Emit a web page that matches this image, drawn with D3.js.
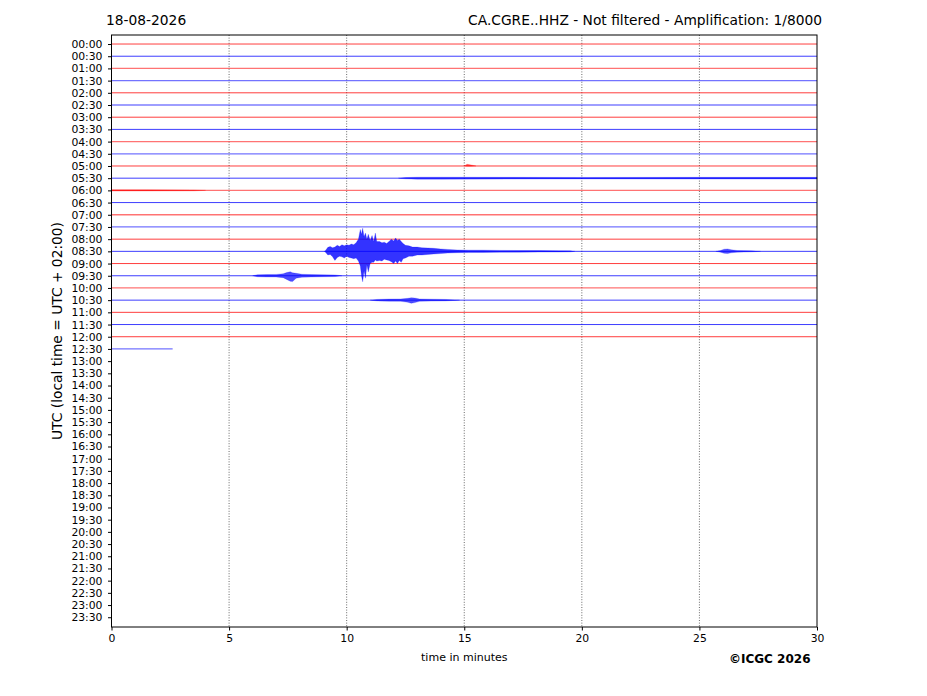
<!DOCTYPE html>
<html>
<head>
<meta charset="utf-8">
<script src="https://cdn.jsdelivr.net/npm/d3@7"></script>
<style>
  body { margin: 0; background: #fff; }
  text { font-family: "DejaVu Sans", sans-serif; }
</style>
</head>
<body>
<div id="chart"></div>
<script>
// row labels (UTC, every 30 minutes)
var rowLabels = ["00:00","00:30","01:00","01:30","02:00","02:30","03:00","03:30",
  "04:00","04:30","05:00","05:30","06:00","06:30","07:00","07:30",
  "08:00","08:30","09:00","09:30","10:00","10:30","11:00","11:30",
  "12:00","12:30","13:00","13:30","14:00","14:30","15:00","15:30",
  "16:00","16:30","17:00","17:30","18:00","18:30","19:00","19:30",
  "20:00","20:30","21:00","21:30","22:00","22:30","23:00","23:30"];
var xTicks = [0, 5, 10, 15, 20, 25, 30];

// minutes of signal recorded in each row (rows after 12:30 are empty)
var traceEnd = [30,30,30,30,30,30,30,30,30,30,30,30,30,30,30,30,
  30,30,30,30,30,30,30,30,30,2.6];
// background noise level per row (0 quiet, 1 noisy)
var noise = [0,0,1,1,0,0,0,0,1,1,0,0,1,0,1,1,0,0,0,0,1,0,0,0,0,1];

// envelopes: [minute, up, down] in trace spacing units
var ev0500 = [[15.0,0,0],[15.12,0.14,0.02],[15.3,0.08,0.02],[15.5,0,0]];
var ev0530 = [[12.2,0,0],[12.5,0.05,0.05],[13.0,0.08,0.08],[14.0,0.08,0.08],
  [17.0,0.07,0.07],[20.0,0.06,0.06],[25.0,0.07,0.07],[30,0.07,0.07]];
var ev0600 = [[0,0.06,0.06],[1.5,0.05,0.05],[3.5,0.04,0.04],[4.0,0,0]];
var ev0830 = [[9.05,0,0],[9.1,0.08,0.08],[9.2,0.33,0.3],[9.3,0.4,0.25],[9.4,0.3,0.45],
  [9.5,0.35,0.74],[9.6,0.5,0.5],[9.7,0.4,0.4],[9.8,0.55,0.45],[9.9,0.45,0.55],
  [10.0,0.55,0.4],[10.1,0.5,0.5],[10.2,0.6,0.55],[10.3,0.55,0.6],[10.4,0.7,0.55],
  [10.5,1.0,0.8],[10.58,1.8,1.2],[10.63,1.4,2.0],[10.68,1.9,2.5],[10.74,1.2,1.6],
  [10.8,1.5,2.2],[10.86,1.0,1.1],[10.92,1.4,1.7],[11.0,0.9,1.0],[11.08,1.3,0.9],
  [11.15,0.8,0.9],[11.22,1.5,0.7],[11.28,0.8,0.8],[11.4,0.8,0.75],[11.5,0.7,0.8],
  [11.6,0.75,0.65],[11.7,0.65,0.7],[11.8,0.8,0.75],[11.9,1.0,0.85],[12.0,0.85,1.0],
  [12.08,1.1,0.8],[12.16,0.9,1.0],[12.24,1.0,0.75],[12.32,0.8,0.9],[12.4,0.65,0.6],
  [12.5,0.5,0.55],[12.65,0.45,0.4],[12.8,0.35,0.4],[13.0,0.35,0.3],[13.2,0.3,0.3],
  [13.45,0.28,0.25],[13.7,0.25,0.22],[14.0,0.2,0.18],[14.3,0.16,0.14],[14.7,0.12,0.11],
  [15.2,0.1,0.1],[15.8,0.1,0.09],[16.5,0.08,0.08],[17.3,0.07,0.07],[18.2,0.07,0.06],
  [19.0,0.06,0.06],[19.5,0.04,0.04],[19.7,0,0]];
var ev0830b = [[25.7,0,0],[25.9,0.07,0.07],[26.05,0.18,0.16],[26.2,0.2,0.18],
  [26.35,0.13,0.12],[26.6,0.07,0.07],[27.2,0.04,0.04],[27.6,0,0]];
var ev0930 = [[6.0,0,0],[6.2,0.08,0.08],[6.6,0.1,0.1],[7.0,0.11,0.1],[7.3,0.16,0.16],
  [7.45,0.26,0.3],[7.6,0.33,0.45],[7.7,0.24,0.48],[7.85,0.2,0.2],[8.1,0.12,0.12],
  [8.5,0.1,0.1],[9.0,0.08,0.08],[9.5,0.07,0.07],[9.8,0,0]];
var ev1030 = [[11.0,0,0],[11.3,0.06,0.06],[11.8,0.09,0.09],[12.3,0.1,0.1],
  [12.6,0.15,0.17],[12.75,0.2,0.26],[12.9,0.17,0.2],[13.1,0.1,0.1],[13.6,0.08,0.08],
  [14.2,0.06,0.06],[14.8,0,0]];

var events = [
  {row: 10, pts: ev0500}, {row: 11, pts: ev0530}, {row: 12, pts: ev0600},
  {row: 17, pts: ev0830}, {row: 17, pts: ev0830b},
  {row: 19, pts: ev0930}, {row: 21, pts: ev1030}
];

var width = 927, height = 696;
var plotL = 111.5, plotR = 817, plotT = 35, plotB = 627;

var svg = d3.select('#chart').append('svg').attr('width', width).attr('height', height);

var x = d3.scaleLinear().domain([0, 30]).range([plotL, plotR]);
var y = d3.scaleLinear().domain([-0.74, 47.8]).range([plotT, plotB]);

function color(row) { return row % 2 == 0 ? '#ff0000' : '#0000ff'; }

// vertical dotted grid
svg.append('g').selectAll('line')
  .data(xTicks.filter(d => d > 0 && d < 30)).join('line')
    .attr('x1', d => x(d)).attr('x2', d => x(d))
    .attr('y1', plotT).attr('y2', plotB)
    .attr('stroke', '#444').attr('stroke-width', 0.8)
    .attr('stroke-dasharray', '1,1.6');

// baselines
svg.append('g').selectAll('line')
  .data(traceEnd).join('line')
    .attr('x1', x(0)).attr('x2', (d) => x(d))
    .attr('y1', (d, i) => y(i)).attr('y2', (d, i) => y(i))
    .attr('stroke', (d, i) => color(i))
    .attr('stroke-width', (d, i) => noise[i] ? 1.3 : 0.9)
    .attr('stroke-opacity', (d, i) => noise[i] ? 0.55 : 0.85);

// seismic envelopes
var area = d3.area()
  .x(d => x(d[0]))
  .y0(d => y(d.row + d[2]))
  .y1(d => y(d.row - d[1]));

function peak(ev) { return d3.max(ev.pts, p => Math.max(p[1], p[2])); }

svg.append('g').selectAll('path')
  .data(events).join('path')
    .attr('d', ev => area(ev.pts.map(p => { var q = p.slice(); q.row = ev.row; return q; })))
    .attr('fill', ev => color(ev.row))
    .attr('fill-opacity', ev => peak(ev) > 1 ? 0.8 : 0.7)
    .attr('stroke', ev => color(ev.row))
    .attr('stroke-width', 0.4)
    .attr('stroke-opacity', 0.5);

// axes
var yAxis = d3.axisLeft(y).tickValues(d3.range(48))
  .tickFormat(i => rowLabels[i]).tickSize(3.5).tickPadding(5.5);
var gy = svg.append('g').attr('transform', 'translate(' + plotL + ',0)').call(yAxis);
gy.select('.domain').remove();
gy.selectAll('text').attr('font-size', '10.8px').attr('font-family', 'DejaVu Sans').attr('fill', '#000');

var xAxis = d3.axisBottom(x).tickValues(xTicks).tickFormat(d3.format('d'))
  .tickSize(3.5).tickPadding(3.5);
var gx = svg.append('g').attr('transform', 'translate(0,' + plotB + ')').call(xAxis);
gx.select('.domain').remove();
gx.selectAll('text').attr('font-size', '10.8px').attr('font-family', 'DejaVu Sans').attr('fill', '#000');

svg.append('rect')
  .attr('x', plotL).attr('y', plotT)
  .attr('width', plotR - plotL).attr('height', plotB - plotT)
  .attr('fill', 'none').attr('stroke', '#000').attr('stroke-width', 1);

// titles and labels
svg.append('text').attr('x', 106).attr('y', 25)
  .attr('font-size', '13.8px').text('18-08-2026');
svg.append('text').attr('x', 822).attr('y', 25).attr('text-anchor', 'end')
  .attr('font-size', '13.8px').text('CA.CGRE..HHZ - Not filtered - Amplification: 1/8000');
svg.append('text')
  .attr('transform', 'translate(57,' + ((plotT + plotB) / 2) + ') rotate(-90)')
  .attr('text-anchor', 'middle').attr('dominant-baseline', 'central')
  .attr('font-size', '13.8px').text('UTC (local time = UTC + 02:00)');
svg.append('text').attr('x', (plotL + plotR) / 2).attr('y', 657)
  .attr('text-anchor', 'middle').attr('dominant-baseline', 'central')
  .attr('font-size', '11px').text('time in minutes');
svg.append('text').attr('x', 729).attr('y', 659)
  .attr('dominant-baseline', 'central')
  .attr('font-size', '12px').attr('font-weight', 'bold').text('©ICGC 2026');
</script>
</body>
</html>
